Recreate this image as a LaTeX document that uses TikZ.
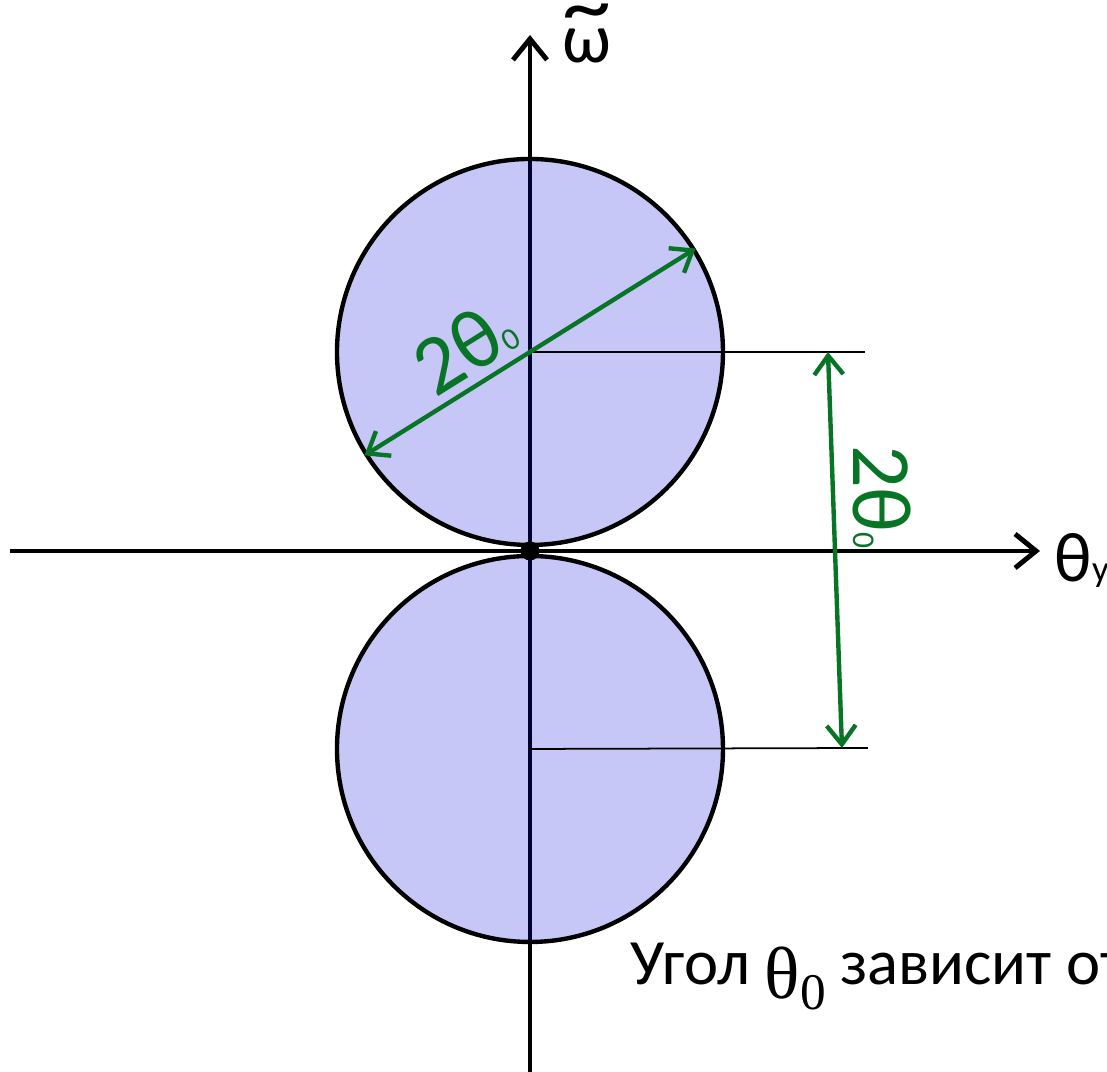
\documentclass[tikz,border=0pt]{standalone}
\usepackage{fontspec}
\setmainfont{Carlito}
\newfontfamily\timesgr{Liberation Serif}
\usepackage{xcolor}
\usepackage{tikz}
\usetikzlibrary{arrows.meta, positioning}
\definecolor{discblue}{RGB}{0,0,220}
\definecolor{dimgreen}{RGB}{8,116,38}
\tikzstyle{disc} = [circle,
minimum size=3.86cm,
inner sep=0pt,
draw=black, line width=1.25pt,
fill=discblue, fill opacity=0.22, draw opacity=1]
\tikzstyle{axis} = [line width=1.4pt, -{Straight Barb[length=2.1mm, width=3.4mm]}]
\tikzstyle{guide} = [line width=0.5pt]
\tikzstyle{dim} = [dimgreen, line width=1.25pt,
{Straight Barb[length=1.9mm, width=2.9mm]}-{Straight Barb[length=1.9mm, width=2.9mm]}]
\tikzstyle{dimlabel} = [dimgreen, inner sep=0pt, font=\fontsize{24}{26}\selectfont]
\tikzstyle{dot} = [circle, fill=black, inner sep=0pt, minimum size=0.19cm]

\begin{document}
\begin{tikzpicture}
            \useasboundingbox (-5.30,-5.21) rectangle (5.77,5.51);
            \coordinate (xl) at (-5.20,0);
            \coordinate (xr) at (5.10,0);
            \coordinate (yb) at (0,-5.25);
            \coordinate (yt) at (0,5.16);
            \draw [axis] (xl) -- (xr);
            \draw [axis] (yb) -- (yt);

            \node (up) [disc] at (0,1.99) {};
            \node (down) [disc] at (0,-1.98) {};
            \node (orig) [dot] at (0,0) {};

            \node (omega) [font=\fontsize{20}{22}\selectfont] at (0.57,5.05)
                {\ooalign{ω\cr\hidewidth\raisebox{0.40em}{\scalebox{1.4}[1.2]{\textasciitilde}}\hidewidth\cr}};
            \node (thy) [anchor=base west, inner sep=0pt, font=\fontsize{20}{22}\selectfont] at (5.24,-0.31)
                {θ{\fontsize{10.5}{12}\selectfont y}};

            % dimension lines
            \coordinate (g1) at (3.35,1.99);
            \coordinate (g2) at (3.38,-1.97);
            \draw [guide] (up.center) -- (g1);
            \draw [guide] (down.center) -- (g2);
            \coordinate (d1) at (2.98,1.99);
            \coordinate (d2) at (3.12,-1.97);
            \draw [dim] (d1) -- (d2);
            \draw [dim] (up.212) -- (up.32);
            \node (lab1) [dimlabel, rotate=32] at (-0.66,2.04) {2θ{\fontsize{9}{10}\selectfont 0}};
            \node (lab2) [dimlabel, rotate=-90] at (3.52,0.54) {2θ{\fontsize{9}{10}\selectfont 0}};

            \node (note) [anchor=base west, inner sep=0pt, font=\fontsize{18.4}{20}\selectfont] at (1.00,-4.34)
                {Угол\ \raisebox{-0.14cm}{\timesgr\fontsize{21}{22}\selectfont θ}\raisebox{-0.25cm}{\timesgr\fontsize{14.6}{16}\selectfont 0}\ зависит от};
        \end{tikzpicture}
\end{document}
